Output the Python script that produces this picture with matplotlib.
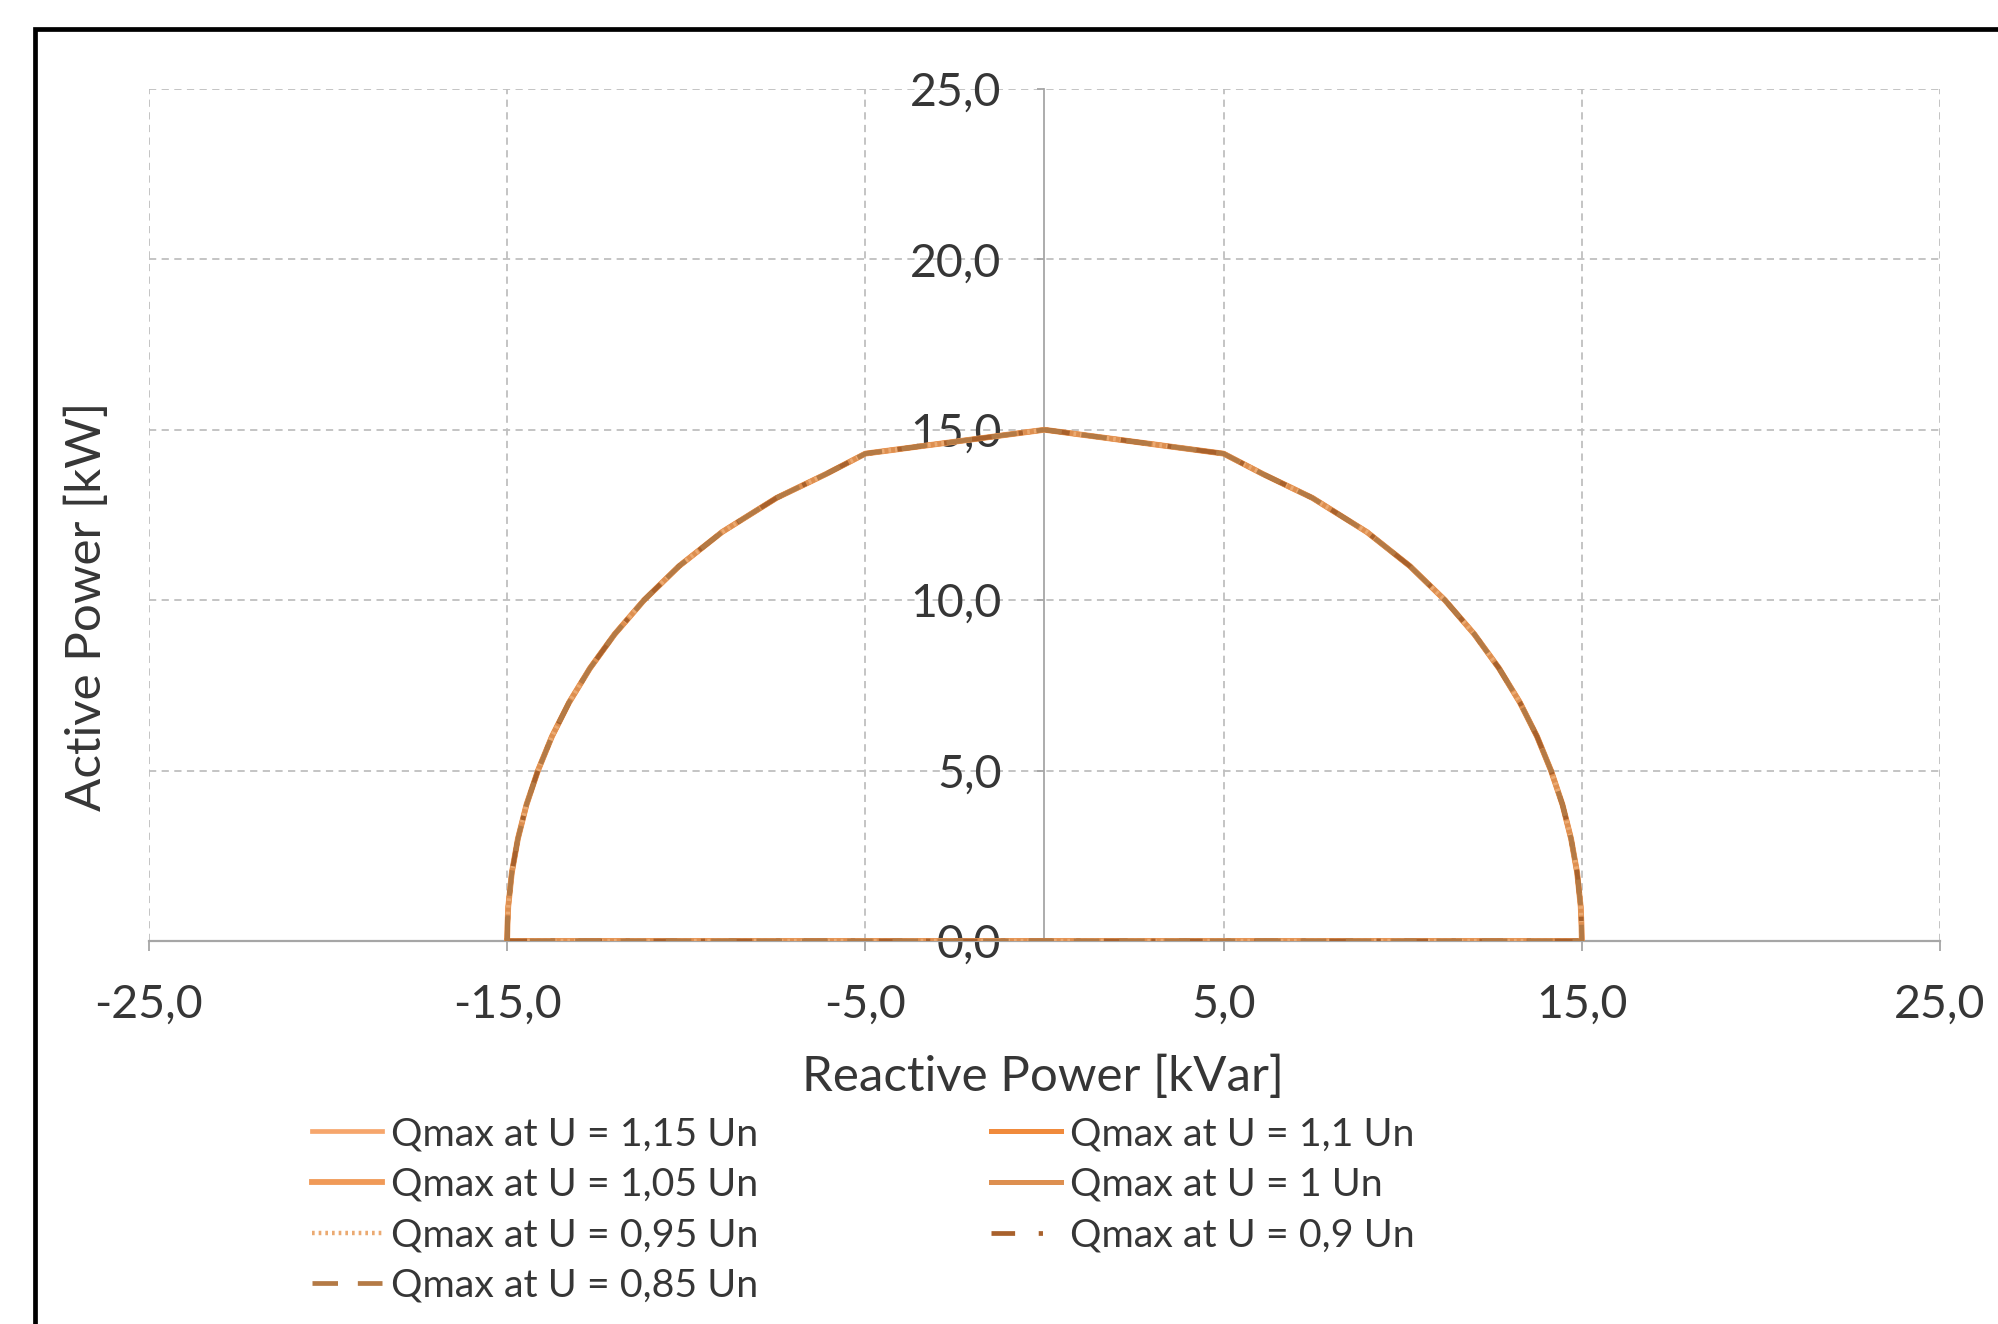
import matplotlib
matplotlib.use("Agg")
import matplotlib.pyplot as plt
from matplotlib.patches import Rectangle

plt.rcParams["font.family"] = ["Lato", "DejaVu Sans"]

# Capability curve (reactive power Q in kVar, active power P in kW), closed along P = 0
q_pts = [-15.0, -14.99, -14.97, -14.87, -14.70, -14.46, -14.14, -13.75, -13.27,
         -12.69, -12.00, -11.18, -10.20, -9.00, -7.48, -6.10, -5.0, 0.0,
         5.0, 6.10, 7.48, 9.00, 10.20, 11.18, 12.00, 12.69, 13.27, 13.75,
         14.14, 14.46, 14.70, 14.87, 14.97, 14.99, 15.0, -15.0]
p_pts = [0.0, 0.5, 1.0, 2.0, 3.0, 4.0, 5.0, 6.0, 7.0,
         8.0, 9.0, 10.0, 11.0, 12.0, 13.0, 13.7, 14.3, 15.0,
         14.3, 13.7, 13.0, 12.0, 11.0, 10.0, 9.0, 8.0, 7.0, 6.0,
         5.0, 4.0, 3.0, 2.0, 1.0, 0.5, 0.0, 0.0]

series_labels = ["Qmax at U = 1,15 Un", "Qmax at U = 1,1 Un", "Qmax at U = 1,05 Un",
                 "Qmax at U = 1 Un", "Qmax at U = 0,95 Un", "Qmax at U = 0,9 Un",
                 "Qmax at U = 0,85 Un"]

x_ticks = [-25, -15, -5, 5, 15, 25]
y_ticks = [0, 5, 10, 15, 20, 25]

colors = ["#F6A66C", "#F08A3C", "#F09A58", "#DD8F50", "#EBAA72", "#A8612C", "#B47A45"]
styles = ["-", "-", "-", "-", (0, (0.6, 0.9)), (0, (5.0, 5.0, 0.9, 5.0)), (0, (5.4, 4.2))]
widths = [3.4, 3.6, 4.2, 3.6, 3.2, 3.4, 3.4]

text_col = "#363636"

fig = plt.figure(figsize=(19.99, 13.24), dpi=100)
ax = fig.add_axes([0.0745, 0.2893, 0.896, 0.6435])

handles = []
for lab, c, ls, lw in zip(series_labels, colors, styles, widths):
    h, = ax.plot(q_pts, p_pts, color=c, linestyle=ls, linewidth=lw, label=lab,
                 zorder=3)
    handles.append(h)

ax.set_xlim(-25, 25)
ax.set_ylim(0, 25)
ax.set_xticks(x_ticks)
ax.set_yticks(y_ticks)
ax.set_xticklabels([f"{v:.1f}".replace(".", ",") for v in x_ticks])
ax.set_yticklabels([f"{v:.1f}".replace(".", ",") for v in y_ticks])

ax.spines["left"].set_position(("data", 0))
ax.spines["left"].set_color("#A6A6A6")
ax.spines["left"].set_linewidth(1.3)
ax.spines["bottom"].set_color("#A6A6A6")
ax.spines["bottom"].set_linewidth(1.6)
ax.spines["top"].set_visible(False)
ax.spines["right"].set_visible(False)

ax.grid(True, color="#BFBFBF", linestyle=(0, (4, 3)), linewidth=1.3)
ax.set_axisbelow(True)

ax.tick_params(axis="x", direction="out", length=7, width=1.3, color="#A6A6A6",
               pad=24, labelsize=33.5, labelcolor=text_col)
ax.tick_params(axis="y", direction="out", length=5, width=1.3, color="#A6A6A6",
               pad=26, labelsize=33.5, labelcolor=text_col)

fig.text(0.522, 0.1866, "Reactive Power [kVar]", ha="center", va="center",
         fontsize=35.5, color=text_col)
fig.text(0.0435, 0.542, "Active Power [kW]", ha="center", va="center",
         rotation=90, fontsize=35.5, color=text_col)

order = [0, 2, 4, 6, 1, 3, 5]
leg = fig.legend([handles[i] for i in order], [series_labels[i] for i in order],
                 ncol=2, loc="upper left", bbox_to_anchor=(0.156, 0.157),
                 frameon=False, fontsize=28.4, handlelength=1.78, handletextpad=0.22,
                 columnspacing=5.9, labelspacing=0.37, borderaxespad=0,
                 borderpad=0)
for t in leg.get_texts():
    t.set_color(text_col)

# black frame around the chart (clipped on right and bottom)
fig.patches.append(Rectangle((0.0175, -0.2), 1.2, 1.178, transform=fig.transFigure,
                             fill=False, edgecolor="black", linewidth=3.4))

fig.savefig("out.png", dpi=100)
